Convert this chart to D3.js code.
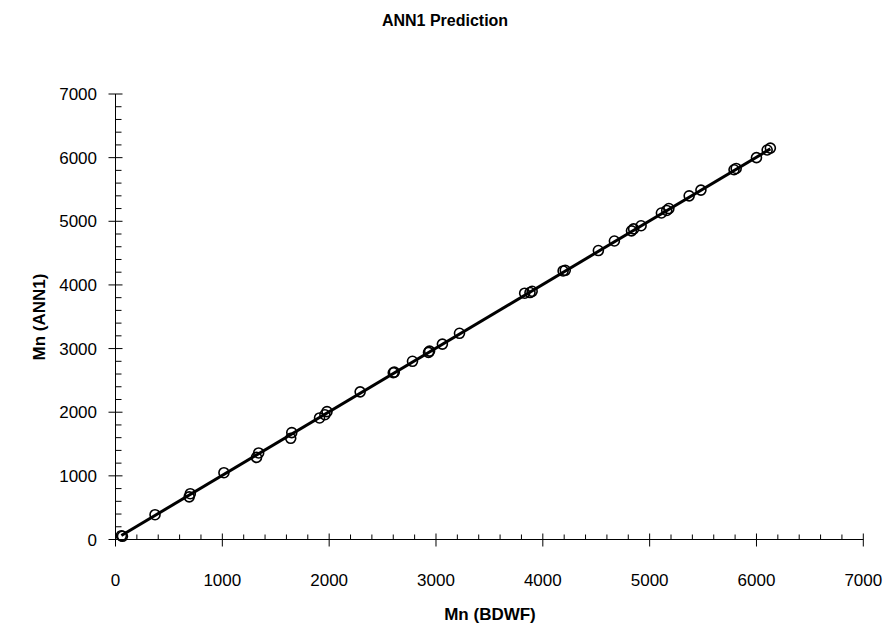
<!DOCTYPE html>
<html><head><meta charset="utf-8">
<script src="https://cdn.jsdelivr.net/npm/d3@7"></script>
<style>body{margin:0;background:#fff}svg text{font-family:"Liberation Sans",Arial,sans-serif}</style>
</head><body><svg id="c" width="891" height="633"></svg>
<script>
const title = "ANN1 Prediction";
const xLabel = "Mn (BDWF)";
const yLabel = "Mn (ANN1)";
const xTicks = [0,1000,2000,3000,4000,5000,6000,7000];
const yTicks = [0,1000,2000,3000,4000,5000,6000,7000];
const bdwf = [55,65,370,690,700,1015,1320,1340,1640,1650,1910,1960,1980,2290,2600,2610,2780,2930,2940,3060,3220,3830,3880,3900,4190,4210,4520,4670,4830,4850,4920,5110,5160,5180,5370,5480,5790,5810,6000,6100,6130];
const ann1 = [60,50,390,670,720,1050,1290,1360,1590,1680,1910,1960,2010,2320,2620,2630,2800,2940,2960,3070,3240,3870,3880,3900,4220,4230,4540,4690,4850,4880,4930,5130,5170,5200,5400,5490,5810,5830,6000,6120,6150];
const fitX = [55,6130];

const svg = d3.select("#c");
const x = d3.scaleLinear().domain([0,7000]).range([115.5,863.3]);
const y = d3.scaleLinear().domain([0,7000]).range([539.5,94]);

svg.append("text").attr("x",445).attr("y",26).attr("text-anchor","middle")
  .attr("font-size",16).attr("font-weight","bold").text(title);

// minor ticks
const minor = d3.range(0,7001,200).filter(v=>v%1000!==0);
const gx = svg.append("g").attr("stroke","#000").attr("stroke-width",1);
gx.selectAll(".mx").data(minor).join("line")
  .attr("x1",d=>x(d)).attr("x2",d=>x(d)).attr("y1",y(0)-5).attr("y2",y(0));
gx.selectAll(".Mx").data(xTicks).join("line")
  .attr("x1",d=>x(d)).attr("x2",d=>x(d)).attr("y1",y(0)-6).attr("y2",y(0)+7);
gx.selectAll(".my").data(minor).join("line")
  .attr("y1",d=>y(d)).attr("y2",d=>y(d)).attr("x1",x(0)).attr("x2",x(0)+6);
gx.selectAll(".My").data(yTicks).join("line")
  .attr("y1",d=>y(d)).attr("y2",d=>y(d)).attr("x1",x(0)-7).attr("x2",x(0)+7);
gx.append("line").attr("x1",x(0)).attr("x2",x(7000)).attr("y1",y(0)).attr("y2",y(0));
gx.append("line").attr("x1",x(0)).attr("x2",x(0)).attr("y1",y(0)).attr("y2",y(7000));

svg.selectAll(".xl").data(xTicks).join("text")
  .attr("x",d=>x(d)).attr("y",586).attr("text-anchor","middle").attr("font-size",17).text(d=>d);
svg.selectAll(".yl").data(yTicks).join("text")
  .attr("x",97).attr("y",d=>y(d)+6).attr("text-anchor","end").attr("font-size",17).text(d=>d);

svg.append("text").attr("x",490).attr("y",620).attr("text-anchor","middle")
  .attr("font-size",17).attr("font-weight","bold").text(xLabel);
svg.append("text").attr("transform","translate(45,317) rotate(-90)").attr("text-anchor","middle")
  .attr("font-size",17).attr("font-weight","bold").text(yLabel);

// trend line
svg.append("line").attr("x1",x(fitX[0])).attr("y1",y(fitX[0]*1.0+8)).attr("x2",x(fitX[1])).attr("y2",y(fitX[1]*1.0+8))
  .attr("stroke","#000").attr("stroke-width",3);

svg.selectAll(".pt").data(bdwf.map((v,i)=>[v,ann1[i]])).join("circle")
  .attr("cx",d=>x(d[0])).attr("cy",d=>y(d[1])).attr("r",5)
  .attr("fill","none").attr("stroke","#000").attr("stroke-width",1.6);
</script></body></html>
